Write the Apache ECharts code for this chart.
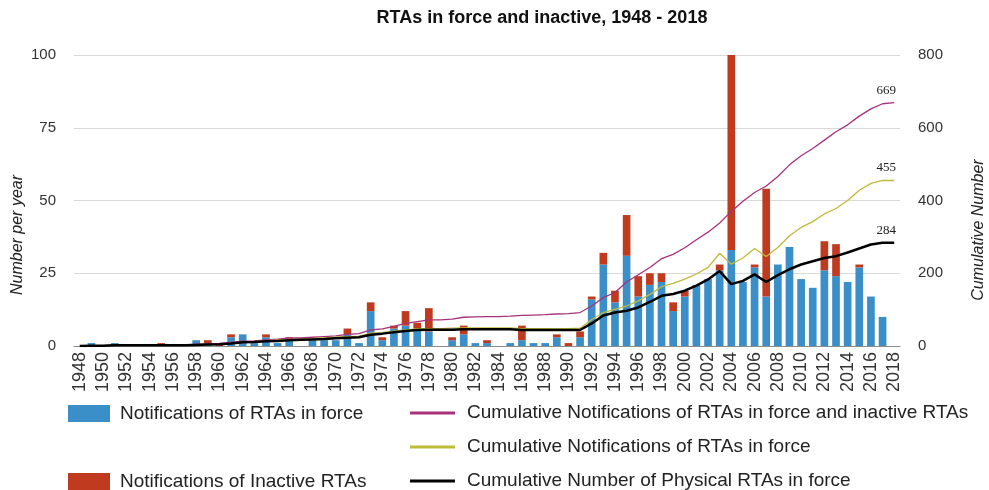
<!DOCTYPE html>
<html>
<head>
<meta charset="utf-8">
<script src="https://cdn.jsdelivr.net/npm/echarts@6/dist/echarts.min.js"></script>
<style>
html,body{margin:0;padding:0;background:#fff;}
#chart{width:989px;height:490px;}
</style>
</head>
<body>
<div id="chart"></div>
<script>
const years = ['1948','1949','1950','1951','1952','1953','1954','1955','1956','1957','1958','1959','1960','1961','1962','1963','1964','1965','1966','1967','1968','1969','1970','1971','1972','1973','1974','1975','1976','1977','1978','1979','1980','1981','1982','1983','1984','1985','1986','1987','1988','1989','1990','1991','1992','1993','1994','1995','1996','1997','1998','1999','2000','2001','2002','2003','2004','2005','2006','2007','2008','2009','2010','2011','2012','2013','2014','2015','2016','2017','2018'];

const inForce = [0,1,0,1,0,0,0,0,0,0,2,1,0,3,4,1,3,1,2,0,2,2,2,4,1,12,2,6,7,6,5,0,2,4,1,1,0,1,2,1,1,3,0,3,16,28,15,31,17,21,22,12,17,21,23,26,33,22,27,17,28,34,23,20,26,24,22,27,17,10,0];
const inactive = [0,0,0,0,0,0,0,1,0,0,0,1,1,1,0,0,1,0,1,0,0,0,0,2,0,3,1,1,5,2,8,0,1,3,0,1,0,0,5,0,0,1,1,2,1,4,4,14,7,4,3,3,2,0,0,2,67,0,1,37,0,0,0,0,10,11,0,1,0,0,0];

const cumAll = [0,1,1,2,2,2,2,3,3,3,5,6,7,10,13,14,17,19,22,22,24,26,28,32,34,44,47,54,62,67,72,72,74,79,80,81,81,82,84,85,86,88,89,92,110,133,147,176,196,216,240,252,270,292,313,338,370,398,422,440,466,498,523,543,566,589,608,632,652,666,669];
const cumInForce = [0,1,1,2,2,2,2,2,2,2,4,4,4,7,11,12,15,16,18,18,20,22,24,26,27,35,37,41,44,47,48,48,49,50,50,50,50,50,48,48,48,48,48,49,73,92,101,110,124,142,163,172,184,198,216,255,225,242,268,246,271,303,326,342,363,378,400,428,447,455,455];
const cumPhysical = [0,1,1,2,2,2,2,2,2,2,3,4,5,7,10,11,13,14,16,17,18,19,21,23,24,31,34,38,41,44,45,45,45,46,46,46,46,46,44,44,44,44,44,44,62,84,92,97,106,121,138,143,152,166,183,206,170,179,197,176,195,211,224,233,242,247,257,268,279,284,284];

const leftTicks = [0,25,50,75,100];
const rightTicks = [0,200,400,600,800];

const names = {
  bar1: 'Notifications of RTAs in force',
  bar2: 'Notifications of Inactive RTAs',
  l1: 'Cumulative Notifications of RTAs in force and inactive RTAs',
  l2: 'Cumulative Notifications of RTAs in force',
  l3: 'Cumulative Number of Physical RTAs in force'
};
const C = {blue:'#3b8fc8', red:'#bf3a1e', purple:'#a8327a', yellow:'#bdbb3a', black:'#000000'};
const FONT = 'Liberation Sans, Arial, sans-serif';

const chart = echarts.init(document.getElementById('chart'));
const lastIdx = years.length - 1;
function endLbl(p){ return p.dataIndex === lastIdx ? String(p.value) : ''; }
const endLabel = {show:true, position:'top', distance:6, offset:[-8,0], formatter:endLbl,
  fontFamily:'Liberation Serif', fontSize:13, color:'#222'};

const legTxt = {fontFamily:FONT, fontSize:19, color:'#222'};
function leg(name, left, top, isBar){
  return {data:[name], left:left, top:top, icon:'rect', orient:'horizontal',
    itemWidth: isBar ? 42 : 45, itemHeight: isBar ? 17 : 3,
    textStyle:Object.assign({padding:[0,0,0, isBar ? 5 : 7]}, legTxt),
    selectedMode:false, padding:0};
}

chart.setOption({
  animation:false,
  backgroundColor:'#fff',
  title:{text:'RTAs in force and inactive, 1948 - 2018', left:537, top:4, textAlign:'center',
    textStyle:{fontFamily:FONT, fontSize:18, fontWeight:'bold', color:'#111'}},
  grid:{left:74, right:89, top:55, bottom:144, containLabel:false},
  legend:[
    leg(names.bar1, 68, 404, true),
    leg(names.bar2, 68, 472, true),
    leg(names.l1, 410, 403.5, false),
    leg(names.l2, 410, 437.5, false),
    leg(names.l3, 410, 471.5, false)
  ],
  xAxis:{type:'category', data:years, boundaryGap:true,
    axisLine:{lineStyle:{color:'#8c8c8c', width:1}},
    axisTick:{show:false},
    axisLabel:{interval:1, rotate:90, fontFamily:FONT, fontSize:18, color:'#333', margin:6}},
  yAxis:[
    {type:'value', min:0, max:100, interval:25,
      axisLine:{show:false}, axisTick:{show:false},
      splitLine:{lineStyle:{color:'#d9d9d9', width:1}},
      axisLabel:{fontFamily:FONT, fontSize:15, color:'#333', margin:18}},
    {type:'value', min:0, max:800, interval:200,
      axisLine:{show:false}, axisTick:{show:false}, splitLine:{show:false},
      axisLabel:{fontFamily:FONT, fontSize:15, color:'#333', margin:18}}
  ],
  graphic:[
    {type:'text', x:18, y:235, rotation:Math.PI/2,
      style:{text:'Number per year', fontFamily:FONT, fontSize:16, fontStyle:'italic',
        fill:'#222', align:'center', verticalAlign:'middle'}},
    {type:'text', x:979, y:230, rotation:Math.PI/2,
      style:{text:'Cumulative Number', fontFamily:FONT, fontSize:16, fontStyle:'italic',
        fill:'#222', align:'center', verticalAlign:'middle'}}
  ],
  series:[
    {name:names.bar1, type:'bar', stack:'n', data:inForce, barWidth:'66%', itemStyle:{color:C.blue}, z:2},
    {name:names.bar2, type:'bar', stack:'n', data:inactive, barWidth:'66%', itemStyle:{color:C.red}, z:2},
    {name:names.l1, type:'line', yAxisIndex:1, data:cumAll, symbol:'circle', symbolSize:0.01, showSymbol:true,
      lineStyle:{color:C.purple, width:1.3}, itemStyle:{color:C.purple}, label:endLabel, z:5},
    {name:names.l2, type:'line', yAxisIndex:1, data:cumInForce, symbol:'circle', symbolSize:0.01, showSymbol:true,
      lineStyle:{color:C.yellow, width:1.3}, itemStyle:{color:C.yellow}, label:endLabel, z:5},
    {name:names.l3, type:'line', yAxisIndex:1, data:cumPhysical, symbol:'circle', symbolSize:0.01, showSymbol:true,
      lineStyle:{color:C.black, width:2.5}, itemStyle:{color:C.black}, label:endLabel, z:6}
  ]
});
</script>
</body>
</html>
